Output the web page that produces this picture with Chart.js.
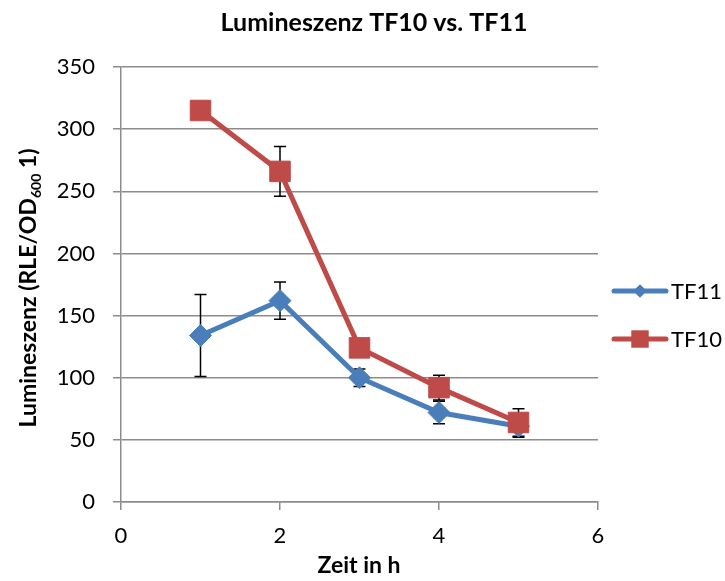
<!DOCTYPE html>
<html>
<head>
<meta charset="utf-8">
<script src="https://cdn.jsdelivr.net/npm/chart.js@4"></script>
<style>
  html, body { margin: 0; padding: 0; background: #fff; }
  #wrap { width: 725px; height: 581px; }
</style>
</head>
<body>
<div id="wrap"><canvas id="chart" width="725" height="581"></canvas></div>
<script>
// Lumineszenz TF10 vs. TF11

const hours = [1, 2, 3, 4, 5];
const tf11 = [134, 162, 100, 72, 61];
const tf11Err = [33, 15, 7, 9, 9];
const tf10 = [315, 266, 124, 92, 64];
const tf10Err = [5, 20, 5, 10, 11];

const FONT = 'Lato, "Open Sans", "Liberation Sans", sans-serif';
const BLUE = '#4a7ebb';
const RED = '#be4b48';

// error bars go behind the markers
const errorBars = {
  id: 'errorBars',
  beforeDatasetsDraw(chart) {
    const ctx = chart.ctx;
    const xs = chart.scales.x, ys = chart.scales.y;
    ctx.save();
    ctx.strokeStyle = '#000';
    ctx.lineWidth = 1.5;
    chart.data.datasets.forEach(ds => {
      ds.data.forEach((p, i) => {
        const e = ds.errors[i];
        const x = xs.getPixelForValue(p.x);
        const top = ys.getPixelForValue(p.y + e);
        const bot = ys.getPixelForValue(p.y - e);
        ctx.beginPath();
        ctx.moveTo(x, top); ctx.lineTo(x, bot);
        ctx.moveTo(x - 6, top); ctx.lineTo(x + 6, top);
        ctx.moveTo(x - 6, bot); ctx.lineTo(x + 6, bot);
        ctx.stroke();
      });
    });
    ctx.restore();
  }
};

// title, axis titles (with subscript) and the legend on the right
const texts = {
  id: 'texts',
  afterDraw(chart) {
    const ctx = chart.ctx;
    ctx.save();
    ctx.fillStyle = '#000';
    ctx.textBaseline = 'middle';

    ctx.textAlign = 'center';
    ctx.font = 'bold 25px ' + FONT;
    ctx.fillText('Lumineszenz TF10 vs. TF11', 374, 23);
    ctx.font = 'bold 23px ' + FONT;
    ctx.fillText('Zeit in h', 359, 566);

    // y title, rotated
    ctx.translate(29, 288);
    ctx.rotate(-Math.PI / 2);
    const a = 'Lumineszenz (RLE/OD', sub = '600', b = ' 1)';
    const big = 'bold 23px ' + FONT, small = 'bold 14px ' + FONT;
    ctx.font = big; const wa = ctx.measureText(a).width, wb = ctx.measureText(b).width;
    ctx.font = small; const ws = ctx.measureText(sub).width;
    let x = -(wa + ws + wb) / 2;
    ctx.textAlign = 'left';
    ctx.font = big; ctx.fillText(a, x, 0); x += wa;
    ctx.font = small; ctx.fillText(sub, x, 7); x += ws;
    ctx.font = big; ctx.fillText(b, x, 0);
    ctx.restore();

    // legend
    ctx.save();
    ctx.font = '22px ' + FONT;
    ctx.textBaseline = 'middle';
    ctx.textAlign = 'left';
    const items = [
      { ds: chart.data.datasets[0], y: 291, scale: 0.62 },
      { ds: chart.data.datasets[1], y: 339, scale: 0.85 }
    ];
    items.forEach(it => {
      ctx.strokeStyle = it.ds.borderColor;
      ctx.lineWidth = 5;
      ctx.lineCap = 'round';
      ctx.beginPath(); ctx.moveTo(614, it.y); ctx.lineTo(666, it.y); ctx.stroke();
      ctx.fillStyle = it.ds.backgroundColor;
      Chart.helpers.drawPoint(ctx, {
        pointStyle: it.ds.pointStyle, radius: it.ds.pointRadius * it.scale,
        borderWidth: 0, rotation: 0
      }, 640, it.y);
      ctx.fillStyle = '#000';
      ctx.fillText(it.ds.label, 671, it.y + 1);
    });
    ctx.restore();
  }
};

new Chart(document.getElementById('chart'), {
  type: 'scatter',
  data: {
    datasets: [
      {
        label: 'TF11',
        data: hours.map((h, i) => ({ x: h, y: tf11[i] })),
        errors: tf11Err,
        showLine: true,
        borderColor: BLUE,
        backgroundColor: BLUE,
        borderWidth: 5,
        pointStyle: 'rectRot',
        pointRadius: 11,
        pointBorderWidth: 1,
        pointHoverRadius: 11,
        order: 2
      },
      {
        label: 'TF10',
        data: hours.map((h, i) => ({ x: h, y: tf10[i] })),
        errors: tf10Err,
        showLine: true,
        borderColor: RED,
        backgroundColor: RED,
        borderWidth: 5,
        pointStyle: 'rect',
        pointRadius: 14.5,
        pointBorderWidth: 1,
        pointHoverRadius: 14.5,
        order: 1
      }
    ]
  },
  options: {
    responsive: false,
    animation: false,
    events: [],
    layout: { padding: { top: 67, right: 127, bottom: 0, left: 0 } },
    plugins: {
      legend: { display: false },
      title: { display: false },
      tooltip: { enabled: false }
    },
    scales: {
      x: {
        type: 'linear',
        min: 0, max: 6,
        ticks: { stepSize: 2, color: '#000', font: { family: FONT, size: 22 }, padding: 13 },
        grid: { drawOnChartArea: false, color: '#8c8c8c', lineWidth: 1.5, tickLength: 8 },
        border: { color: '#8c8c8c', width: 1.5 },
        afterFit(s) { s.height = 79; }
      },
      y: {
        min: 0, max: 350,
        ticks: { stepSize: 50, color: '#000', font: { family: FONT, size: 22 }, padding: 18 },
        grid: { color: '#8c8c8c', lineWidth: 1.5, tickLength: 8 },
        border: { color: '#8c8c8c', width: 1.5 },
        afterFit(s) { s.width = 121; }
      }
    }
  },
  plugins: [errorBars, texts]
});
</script>
</body>
</html>
